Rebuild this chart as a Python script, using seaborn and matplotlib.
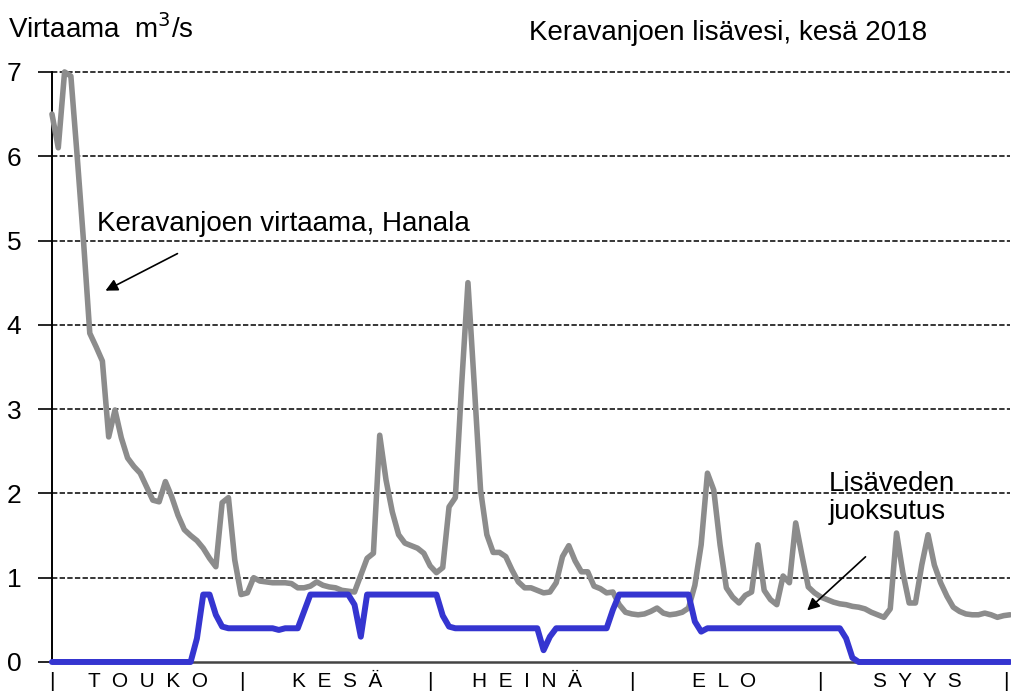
import matplotlib
matplotlib.use("Agg")
import matplotlib.pyplot as plt
import seaborn as sns
import numpy as np
import pandas as pd

# daily values, 1.5. - 30.9.2018 (day index 0..152)
hanala = [6.5, 6.1, 7.0, 6.95, 6.0, 5.0, 3.9, 3.74, 3.57, 2.67,
          2.99, 2.66, 2.42, 2.32, 2.24, 2.08, 1.92, 1.9, 2.14, 1.96,
          1.74, 1.57, 1.5, 1.44, 1.35, 1.23, 1.13, 1.89, 1.95, 1.21,
          0.8, 0.82, 1.0, 0.96, 0.95, 0.94, 0.94, 0.94, 0.93, 0.88,
          0.88, 0.9, 0.95, 0.91, 0.89, 0.88, 0.85, 0.84, 0.83, 1.03,
          1.23, 1.29, 2.69, 2.16, 1.78, 1.51, 1.41, 1.38, 1.35, 1.29,
          1.14, 1.06, 1.12, 1.84, 1.95, 3.29, 4.5, 3.29, 2.04, 1.51,
          1.3, 1.3, 1.25, 1.09, 0.95, 0.88, 0.88, 0.85, 0.82, 0.83,
          0.94, 1.25, 1.38, 1.2, 1.07, 1.07, 0.9, 0.87, 0.82, 0.83,
          0.68, 0.59, 0.57, 0.56, 0.57, 0.6, 0.64, 0.58, 0.56, 0.57,
          0.59, 0.64, 0.91, 1.39, 2.24, 2.04, 1.39, 0.88, 0.77, 0.7,
          0.79, 0.83, 1.39, 0.85, 0.74, 0.68, 1.02, 0.94, 1.65, 1.26,
          0.89, 0.82, 0.77, 0.74, 0.71, 0.69, 0.68, 0.66, 0.65, 0.63,
          0.59, 0.56, 0.53, 0.63, 1.53, 1.06, 0.7, 0.7, 1.15, 1.51,
          1.15, 0.94, 0.78, 0.65, 0.6, 0.57, 0.56, 0.56, 0.58, 0.56,
          0.53, 0.55, 0.56]

lisavesi = [0.0] * 23 + [0.28, 0.8, 0.8, 0.56, 0.42] + [0.4] * 8 + [0.38] + \
           [0.4] * 3 + [0.6] + [0.8] * 7 + [0.68, 0.3] + [0.8] * 12 + \
           [0.55, 0.42] + [0.4] * 14 + [0.14, 0.3] + [0.4] * 9 + [0.62] + \
           [0.8] * 12 + [0.48, 0.36] + [0.4] * 22 + [0.28, 0.05] + [0.0] * 25

month_names = ["T  O  U  K  O", "K  E  S  Ä", "H  E  I  N  Ä", "E  L  O", "S  Y  Y  S"]
month_mid = [15.2, 45.2, 75.4, 106.7, 137.3]
month_sep = [0, 30.2, 60, 92, 121.9, 151.3]

df = pd.DataFrame({"day": np.arange(len(hanala)), "hanala": hanala, "lisavesi": lisavesi})

sns.set_style("white")
plt.rcParams['font.family'] = ['Liberation Sans', 'DejaVu Sans']
plt.rcParams['text.color'] = 'black'
plt.rcParams['xtick.color'] = 'black'
plt.rcParams['ytick.color'] = 'black'

fig = plt.figure(figsize=(10.11, 6.95), dpi=100)
ax = fig.add_axes([0.0514, 0.0475, 0.9476, 0.849])

sns.lineplot(data=df, x="day", y="hanala", color="#8c8c8c", linewidth=4.0, ax=ax, clip_on=False, zorder=3)
sns.lineplot(data=df, x="day", y="lisavesi", color="#3535d0", linewidth=4.3, ax=ax, clip_on=False, zorder=4)

ax.set_xlim(0, 152)
ax.set_ylim(0, 7)
ax.set_yticks(range(0, 8))
ax.tick_params(axis="y", labelsize=19, length=10, width=1.2, colors="black", pad=12, direction="out", left=True)
for v in range(1, 8):
    ax.axhline(v, color="black", linestyle=(0, (3.5, 1.5)), linewidth=1.1, zorder=1, clip_on=False)

ax.set_xticks(month_mid)
ax.set_xticklabels(month_names)
ax.set_xticks(month_sep, minor=True)
ax.set_xticklabels(["|"] * len(month_sep), minor=True)
ax.tick_params(axis="x", which="both", length=0, labelsize=15, pad=7, colors="black")

ax.set_xlabel("")
ax.set_ylabel("")
for s in ["top", "right"]:
    ax.spines[s].set_visible(False)
ax.spines["left"].set_color("black")
ax.spines["left"].set_linewidth(1.4)
ax.spines["bottom"].set_color("#444444")
ax.spines["bottom"].set_linewidth(1.8)

ax.annotate("", xy=(8.1, 4.39), xytext=(20.3, 4.86),
            arrowprops=dict(arrowstyle="-|>", color="black", lw=1.2, mutation_scale=18))
ax.text(7.2, 5.2, "Keravanjoen virtaama, Hanala", fontsize=20, va="center", ha="left")

ax.annotate("", xy=(119.5, 0.59), xytext=(129.4, 1.27),
            arrowprops=dict(arrowstyle="-|>", color="black", lw=1.2, mutation_scale=18))
ax.text(123.3, 1.95, "Lisäveden\njuoksutus", fontsize=20, va="center", ha="left", linespacing=1.1)

fig.text(0.008, 0.958, "Virtaama  m$^3$/s", fontsize=20, ha="left", va="center")
fig.text(0.72, 0.953, "Keravanjoen lisävesi, kesä 2018", fontsize=20, ha="center", va="center")

fig.savefig("out.png", dpi=100)
